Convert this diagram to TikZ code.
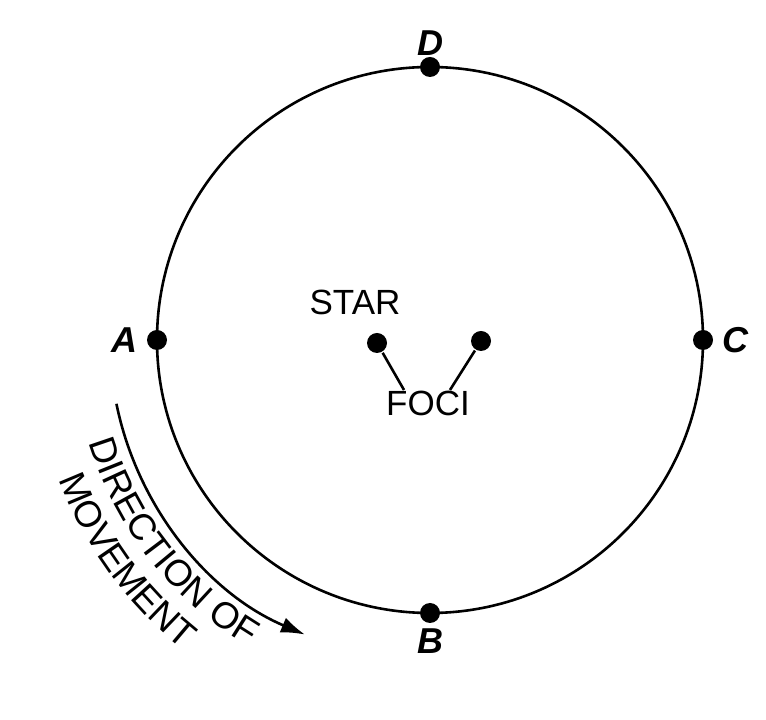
\documentclass[tikz,border=0pt]{standalone}
\usepackage{fontspec}
\setmainfont{Liberation Sans}
\usetikzlibrary{decorations.text,arrows.meta,calc}

\begin{document}
\begin{tikzpicture}[x=1pt,y=1pt,line width=2.6pt,
  dot/.style={circle,fill=black,inner sep=0pt,minimum size=20pt},
  lbl/.style={font=\fontsize{36}{40}\selectfont\bfseries\itshape},
  txt/.style={font=\fontsize{35}{40}\selectfont}]
\useasboundingbox (0,0) rectangle (766,720);
\coordinate (o) at (430,380);
\draw (o) circle (273);
% points on the orbit
\node[dot] (a) at ($(o)+(180:273)$) {};
\node[dot] (b) at ($(o)+(270:273)$) {};
\node[dot] (c) at ($(o)+(0:273)$) {};
\node[dot] (d) at ($(o)+(90:273)$) {};
\node[lbl,left=4pt] (la) at (a.west) {A};
\node[lbl,below=0pt] (lb) at (b.south) {B};
\node[lbl,right=4pt] (lc) at (c.east) {C};
\node[lbl,above=-4pt] (ld) at (d.north) {D};
% foci
\node[dot] (f1) at (377,377) {};
\node[dot] (f2) at (481,379) {};
\node[txt] (star) at (355,418) {STAR};
\node[txt] (foci) at (428,317) {FOCI};
\draw (f1) -- ([xshift=-24pt,yshift=-4pt]foci.north);
\draw (f2) -- ([xshift=22pt,yshift=-4pt]foci.north);
% direction of movement
\draw[-{Latex[length=24pt,width=16pt]}] ($(o)+(191.5:320)$) arc (191.5:247:320);
\path[decorate,decoration={text along path,text align=center,
  text={|\fontsize{37}{40}\selectfont|DIRECTION OF}}]
  ($(o)+(192:356)$) arc (192:244:356);
\path[decorate,decoration={text along path,text align=center,
  text={|\fontsize{37}{40}\selectfont|MOVEMENT}}]
  ($(o)+(195:396)$) arc (195:237:396);
\end{tikzpicture}
\end{document}
